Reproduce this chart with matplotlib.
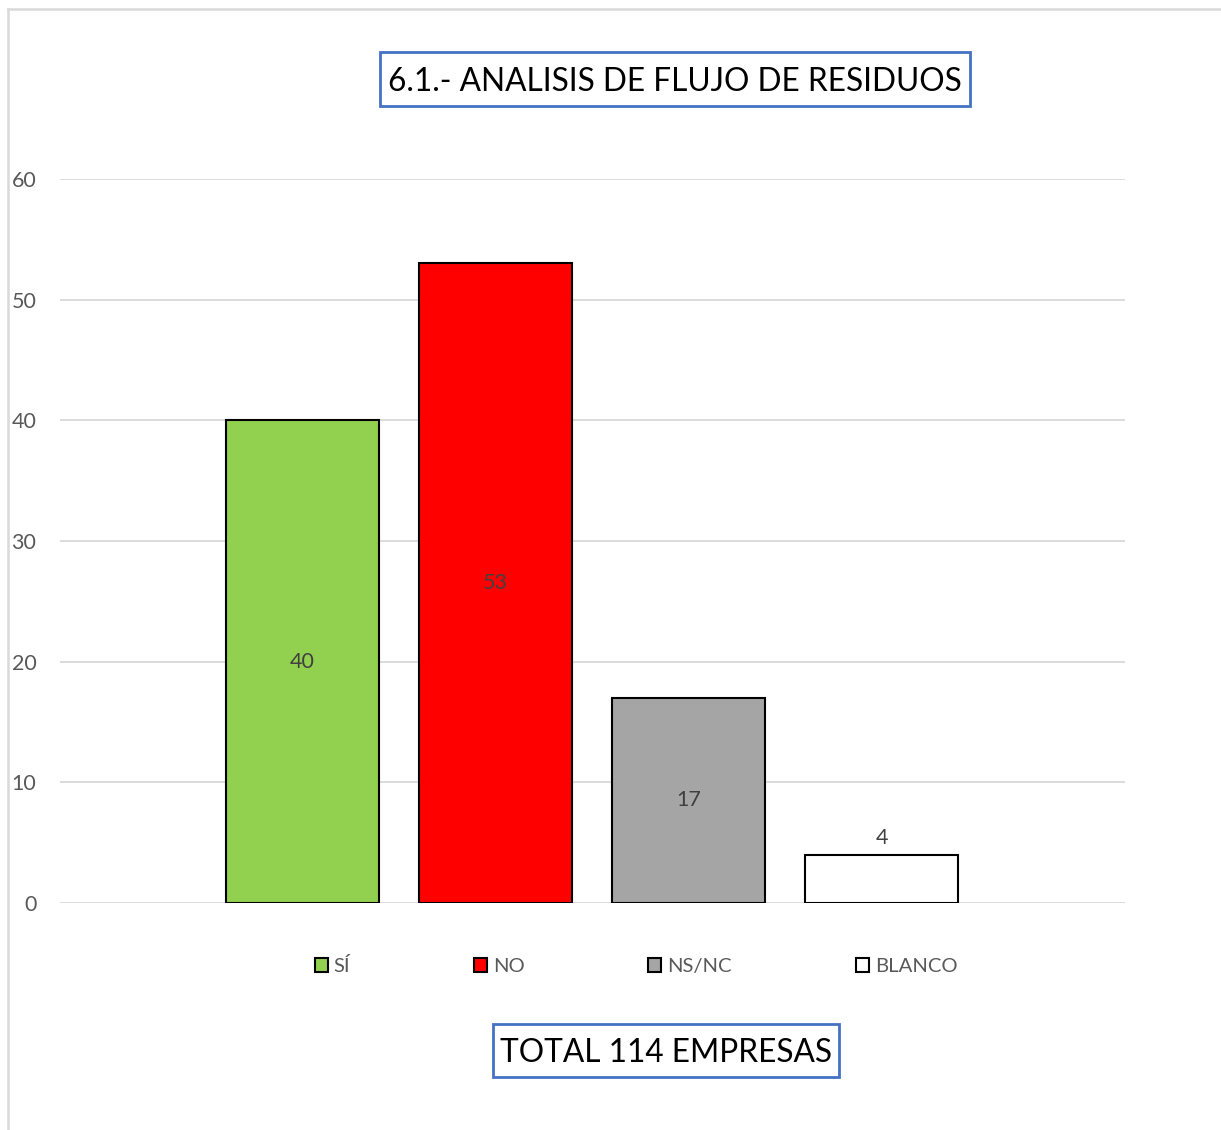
import matplotlib
matplotlib.use('Agg')
import matplotlib.pyplot as plt
from matplotlib.lines import Line2D
from matplotlib.patches import Rectangle
import numpy as np

plt.rcParams['font.family'] = ['Lato', 'DejaVu Sans']

categorias = ['SÍ', 'NO', 'NS/NC', 'BLANCO']
valores = [40, 53, 17, 4]
colores = ['#92D050', '#FF0000', '#A5A5A5', '#FFFFFF']
titulo = '6.1.- ANALISIS DE FLUJO DE RESIDUOS'
total = 'TOTAL 114 EMPRESAS'

W, H = 1221, 1130
fig = plt.figure(figsize=(W / 100, H / 100), dpi=100)
ax = fig.add_axes([60 / W, 1 - 903 / H, 1065 / W, (903 - 179) / H])

x = np.arange(len(categorias))
barras = ax.bar(x, valores, width=0.79, color=colores, edgecolor='black',
                linewidth=1.5, label=categorias, zorder=3)

for b, v in zip(barras, valores):
    yy = v / 2 if v >= 10 else v + 1.4
    ax.text(b.get_x() + b.get_width() / 2, yy, str(v), ha='center',
            va='center', fontsize=15.5, color='#404040', zorder=4)

ax.set_xlim(-1.254, 3 + 1.259)
ax.set_ylim(0, 60)
ax.set_yticks(range(0, 61, 10))
ax.set_xticks([])
ax.tick_params(axis='y', length=0, pad=17, labelsize=15.5, labelcolor='#595959')
ax.yaxis.grid(True, color='#D9D9D9', linewidth=1.3, zorder=0)
for s in ax.spines.values():
    s.set_visible(False)

fig.legend(handles=barras, labels=categorias, loc='center',
           bbox_to_anchor=(636 / W, 1 - 966 / H), ncol=4, frameon=False,
           fontsize=14.6, labelcolor='#595959', handlelength=0.64,
           handleheight=0.64, handletextpad=0.3, columnspacing=6.1)

# cajas de titulo y total
for (x0, y0, x1, y1) in [(380, 52, 970, 106), (493, 1024, 839, 1077)]:
    fig.add_artist(Rectangle((x0 / W, 1 - y1 / H), (x1 - x0) / W, (y1 - y0) / H,
                             transform=fig.transFigure, facecolor='white',
                             edgecolor='#4472C4', linewidth=2))
fig.text(675 / W, 1 - 82 / H, titulo, ha='center', va='center', fontsize=22.8,
         color='black')
fig.text(666 / W, 1 - 1053 / H, total, ha='center', va='center', fontsize=22.8,
         color='black')

# marco del grafico
fig.add_artist(Line2D([8 / W, 1], [1 - 9 / H, 1 - 9 / H], color='#D9D9D9',
                      linewidth=1.8, transform=fig.transFigure))
fig.add_artist(Line2D([8 / W, 8 / W], [0, 1 - 9 / H], color='#D9D9D9',
                      linewidth=1.8, transform=fig.transFigure))

fig.savefig('out.png', dpi=100, facecolor='white')
